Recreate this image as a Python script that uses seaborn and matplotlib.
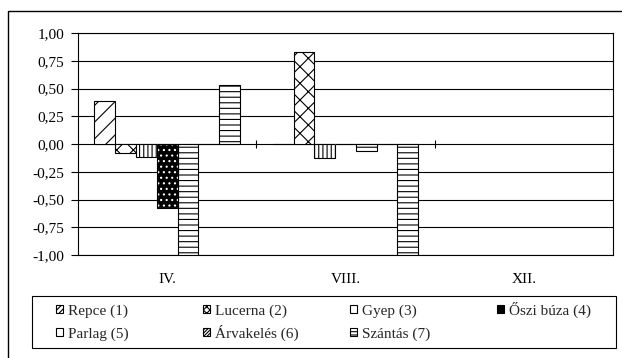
import matplotlib
matplotlib.use("Agg")
import matplotlib.pyplot as plt
import numpy as np
import pandas as pd
import seaborn as sns
from matplotlib.patches import Patch, Rectangle
from matplotlib.ticker import FuncFormatter, MultipleLocator

# Adatok
honapok = ["IV.", "VIII.", "XII."]
novenyek = ["Repce (1)", "Lucerna (2)", "Gyep (3)", "Őszi búza (4)",
            "Parlag (5)", "Árvakelés (6)", "Szántás (7)"]

repce = [0.39, 0.00, np.nan]
lucerna = [-0.08, 0.83, np.nan]
gyep = [-0.12, -0.13, np.nan]
oszi_buza = [-0.58, 0.00, np.nan]
parlag = [-1.00, -0.06, np.nan]
arvakeles = [0.00, 0.00, np.nan]
szantas = [0.53, -1.00, np.nan]

# Mintázatok sorrendben (oszlop, jelmagyarázat)
mintak = ["//", "xx", "||||", "...", "---", "////", "---"]
jel_mintak = ["//////", "xxxxx", "", "", "", "//////////", "-----"]

sns.set_theme(style="white")
plt.rcParams["font.family"] = ["Liberation Serif", "DejaVu Serif"]
plt.rcParams["hatch.linewidth"] = 0.8

df = pd.DataFrame({
    "honap": honapok,
    novenyek[0]: repce,
    novenyek[1]: lucerna,
    novenyek[2]: gyep,
    novenyek[3]: oszi_buza,
    novenyek[4]: parlag,
    novenyek[5]: arvakeles,
    novenyek[6]: szantas,
})
hosszu = df.melt(id_vars="honap", var_name="noveny", value_name="ertek").dropna()

fig = plt.figure(figsize=(6.22, 3.58), dpi=100)
ax = fig.add_axes([78 / 622, 1 - 255 / 358, (613 - 78) / 622, (255 - 33) / 358])

sns.barplot(
    data=hosszu, x="honap", y="ertek", hue="noveny",
    order=honapok, hue_order=novenyek,
    palette=["white"] * len(novenyek), saturation=1,
    edgecolor="black", linewidth=0.8, width=0.815,
    errorbar=None, legend=False, ax=ax,
)

for i, cont in enumerate(ax.containers):
    for bar in cont:
        bar.set_zorder(3)
        bar.set_hatch(mintak[i])
        if novenyek[i].startswith("Őszi"):
            # fekete oszlop fehér pöttyökkel, fekete kerettel
            bar.set_facecolor("black")
            bar.set_edgecolor("white")
            ax.add_patch(Rectangle(bar.get_xy(), bar.get_width(), bar.get_height(),
                                   fill=False, ec="black", lw=0.8, zorder=4))

ax.set_xlim(-0.5, 2.5)
ax.set_ylim(-1.0, 1.0)
ax.yaxis.set_major_locator(MultipleLocator(0.25))


def vesszos(v, pos):
    if abs(v) < 1e-9:
        v = 0.0
    return f"{v:.2f}".replace(".", ",")


ax.yaxis.set_major_formatter(FuncFormatter(vesszos))
ax.yaxis.grid(True, color="black", lw=0.8)
ax.set_axisbelow(True)
ax.tick_params(axis="y", left=True, length=5, width=0.8, color="black",
               labelsize=11, pad=5, labelcolor="black")
ax.tick_params(axis="x", bottom=False, labelsize=11, pad=7, labelcolor="black")
ax.set_xlabel("")
ax.set_ylabel("")
for sp in ax.spines.values():
    sp.set_visible(True)
    sp.set_color("black")
    sp.set_linewidth(0.8)

# kategória tengely jelölései a nullvonalon
ax.vlines(np.arange(len(honapok)) + 0.5, -0.035, 0.035, color="black", lw=0.8, zorder=2)

# jelmagyarázat: 4 oszlop x 2 sor, közös kerettel (alapvonalra igazítva)
oszlop_x = [56, 203, 350, 497]
sor_also = [318, 341]
for i, nev in enumerate(novenyek):
    szin = "black" if nev.startswith("Őszi") else "white"
    jel = Patch(facecolor=szin, edgecolor="black", hatch=jel_mintak[i], lw=0.8)
    sor, oszlop = divmod(i, 4)
    fig.legend(
        [jel], [nev],
        loc="lower left", bbox_to_anchor=(oszlop_x[oszlop] / 622, 1 - sor_also[sor] / 358),
        fontsize=11, frameon=False, borderpad=0, borderaxespad=0,
        handlelength=0.45, handleheight=0.45, handletextpad=0.35,
    )
fig.add_artist(Rectangle((32 / 622, 1 - 348 / 358), (616 - 32) / 622, (348 - 296) / 358,
                         transform=fig.transFigure, fill=False, ec="black", lw=0.8))

# külső keret (csak a bal és felső éle látszik)
fig.add_artist(Rectangle((8 / 622, -0.05), 1.0, 1 - 11 / 358 + 0.05,
                         transform=fig.transFigure, fill=False, ec="black", lw=1))

fig.savefig("out.png", dpi=100)
